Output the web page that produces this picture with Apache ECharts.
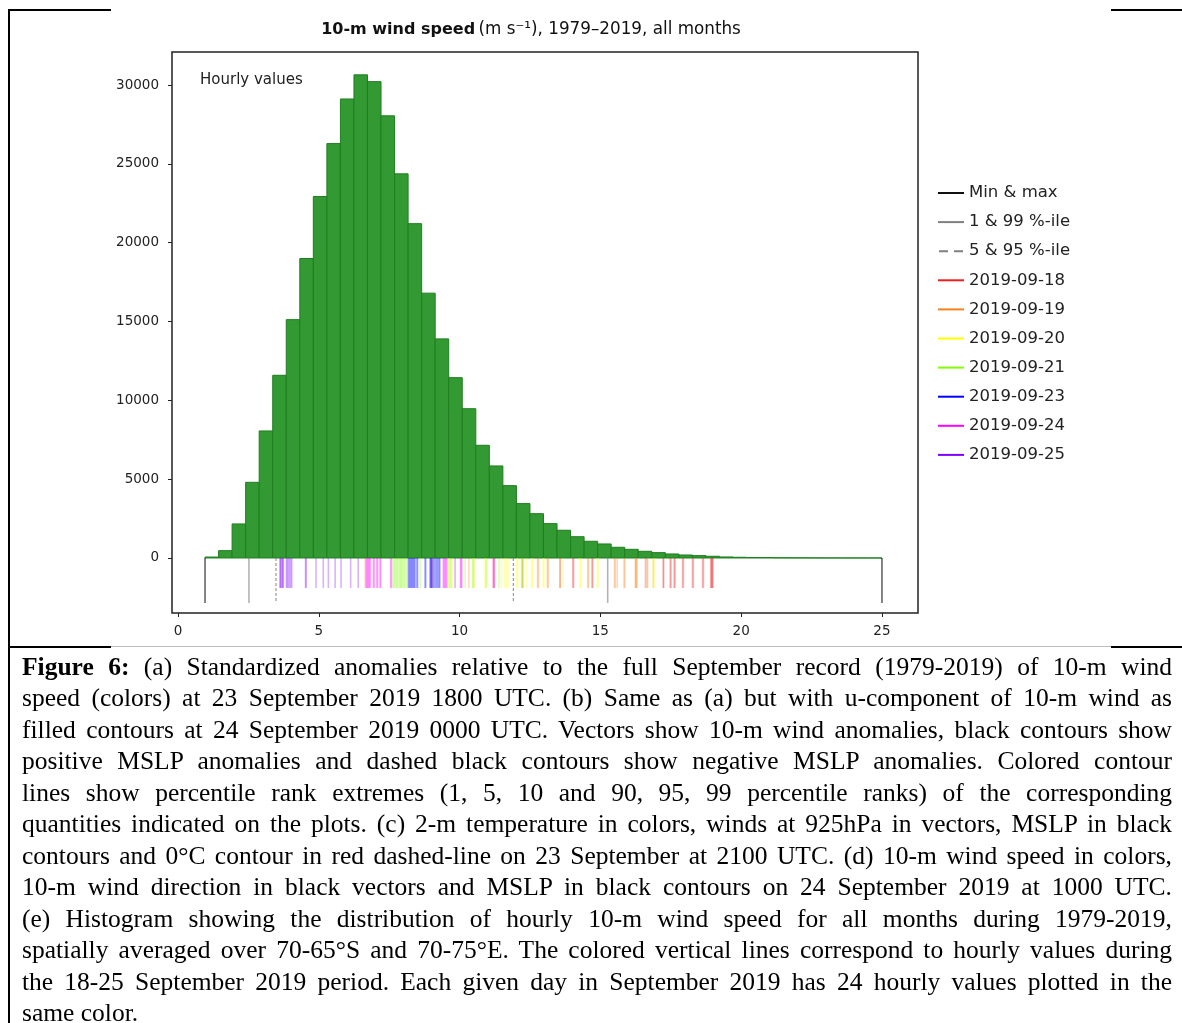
<!DOCTYPE html>
<html><head><meta charset="utf-8">
<script src="https://cdn.jsdelivr.net/npm/echarts@6/dist/echarts.min.js"></script>
<style>
html,body{margin:0;padding:0;background:#fff;width:1182px;height:1023px;overflow:hidden;}
#chart{position:absolute;left:0;top:0;width:1182px;height:646px;}
.ln{position:absolute;background:#000;}
#cap{position:absolute;left:22px;top:651px;width:1150px;font-family:'Liberation Serif','Times New Roman',serif;font-size:25.5px;line-height:31.45px;color:#000;}
#cap div{text-align:justify;text-align-last:justify;}
#cap div.last{text-align-last:left;}
</style></head><body>
<div id="chart"></div>
<div class="ln" style="left:8px;top:9px;width:103px;height:2px"></div>
<div class="ln" style="left:1111px;top:9px;width:71px;height:2px"></div>
<div class="ln" style="left:8px;top:9px;width:2px;height:1014px"></div>
<div class="ln" style="left:8px;top:646px;width:103px;height:2px"></div>
<div class="ln" style="left:1111px;top:646px;width:71px;height:2px"></div>
<div class="ln" style="left:111px;top:646px;width:1000px;height:1px;background:#bbb"></div>
<div id="cap">
<div><b>Figure 6:</b> (a) Standardized anomalies relative to the full September record (1979-2019) of 10-m wind</div>
<div>speed (colors) at 23 September 2019 1800 UTC. (b) Same as (a) but with u-component of 10-m wind as</div>
<div>filled contours at 24 September 2019 0000 UTC. Vectors show 10-m wind anomalies, black contours show</div>
<div>positive MSLP anomalies and dashed black contours show negative MSLP anomalies. Colored contour</div>
<div>lines show percentile rank extremes (1, 5, 10 and 90, 95, 99 percentile ranks) of the corresponding</div>
<div>quantities indicated on the plots. (c) 2-m temperature in colors, winds at 925hPa in vectors, MSLP in black</div>
<div>contours and 0°C contour in red dashed-line on 23 September at 2100 UTC. (d) 10-m wind speed in colors,</div>
<div>10-m wind direction in black vectors and MSLP in black contours on 24 September 2019 at 1000 UTC.</div>
<div>(e) Histogram showing the distribution of hourly 10-m wind speed for all months during 1979-2019,</div>
<div>spatially averaged over 70-65°S and 70-75°E. The colored vertical lines correspond to hourly values during</div>
<div>the 18-25 September 2019 period. Each given day in September 2019 has 24 hourly values plotted in the</div>
<div class="last">same color.</div>
</div>
<script>
// ---------- data ----------
const binMin = 0.96, binMax = 25.0, binCount = 50;
const counts = [60,465,2160,4800,8060,11590,15120,19000,22930,26290,29120,30650,30220,28050,24370,21210,16800,13900,11440,9470,
  7150,5840,4590,3450,2810,2180,1760,1350,1060,890,680,550,425,340,255,190,150,110,65,45,30,25,15,12,10,5,4,3,2,2];
const xTicks = [0,5,10,15,20,25];
const yTicks = [0,5000,10000,15000,20000,25000,30000];
const minMax = [0.96, 25.0];
const pct1_99 = [2.52, 15.26];
const pct5_95 = [3.48, 11.91];
const dayNames = ['2019-09-18','2019-09-19','2019-09-20','2019-09-21','2019-09-23','2019-09-24','2019-09-25'];
const d18 = [11.22,14.02,14.05,14.70,14.73,16.60,17.23,17.25,17.48,17.51,17.62,17.65,17.92,17.95,18.27,18.30,18.63,18.66,18.92,18.94,18.96,18.98,19.00,13.57];
const d19 = [6.65,10.33,11.20,12.23,12.77,12.80,13.15,13.57,14.55,14.58,15.50,15.53,15.60,15.84,15.87,16.24,16.26,16.28,16.30,16.65,16.68,16.88,13.12,12.25];
const d20 = [9.60,9.75,10.49,10.52,10.90,10.93,11.49,11.61,11.66,11.72,12.03,12.06,12.38,12.56,12.59,12.97,13.00,13.68,14.28,14.31,14.89,14.92,16.88,16.91];
const d21 = [7.64,7.68,7.72,7.77,7.80,7.86,7.90,7.93,7.97,8.02,8.06,8.12,8.60,9.05,9.58,9.65,9.70,10.20,10.46,10.50,10.95,11.40,12.20,12.23];
const d23 = [8.18,8.21,8.24,8.27,8.30,8.33,8.36,8.39,8.42,8.48,8.51,8.77,8.95,8.97,8.99,9.01,9.07,9.11,9.15,9.19,9.23,9.27,9.30,8.80];
const d24 = [6.68,6.71,6.74,6.77,6.80,6.83,6.94,6.97,7.06,7.09,7.17,7.20,7.55,7.58,9.42,9.45,9.48,9.51,9.54,10.03,10.05,10.08,11.20,11.24];
const d25 = [3.62,3.64,3.66,3.70,3.72,3.74,3.85,3.88,3.92,3.96,4.00,4.04,4.53,4.90,5.16,5.34,5.58,5.79,6.13,6.40,9.84,9.00,9.03,4.55];
const dayValues = [d18,d19,d20,d21,d23,d24,d25];
const dayColors = ['#e82020','#f5821f','#ffff00','#80ff00','#0000ff','#ff00ff','#8000ff'];
const rugDepth = -1900, statDepth = -2850;

// ---------- build ----------
const binW = (binMax - binMin) / binCount;
const histData = counts.map((c, i) => [binMin + i * binW, binMin + (i + 1) * binW, c]);
function hexA(hex, a){const n=parseInt(hex.slice(1),16);return `rgba(${n>>16&255},${n>>8&255},${n&255},${a})`;}
function rugRender(color, depth, dash, width){
  return function(params, api){
    const v = api.value(0);
    const a = api.coord([v, 0]), b = api.coord([v, depth]);
    return {type:'line', shape:{x1:a[0],y1:a[1],x2:b[0],y2:b[1]}, style:{stroke:color,lineWidth:width,lineDash:dash||null}};
  };
}
const FONT = 'DejaVu Sans';
const series = [{
  type:'custom', name:'hist', silent:true, clip:true,
  encode:{x:[0,1], y:2}, data: histData,
  renderItem(params, api){
    const a = api.coord([api.value(0), 0]), b = api.coord([api.value(1), api.value(2)]);
    return {type:'rect', shape:{x:a[0], y:b[1], width:b[0]-a[0], height:a[1]-b[1]},
      style:{fill:'#339933', stroke:'#1f7f1f', lineWidth:1}};
  }
}];
dayValues.forEach((vals, k) => {
  series.push({type:'custom', name:dayNames[k], silent:true, encode:{x:0,y:1},
    itemStyle:{color:dayColors[k]}, data: vals.map(v=>[v,0]),
    renderItem: rugRender(hexA(dayColors[k],0.3), rugDepth, null, 1.6)});
});
series.push({type:'custom', name:'Min & max', silent:true, encode:{x:0,y:1}, itemStyle:{color:'#000'},
  data:minMax.map(v=>[v,0]), renderItem: rugRender('rgba(0,0,0,0.6)', statDepth, null, 1.6)});
series.push({type:'custom', name:'1 & 99 %-ile', silent:true, encode:{x:0,y:1}, itemStyle:{color:'#808080'},
  data:pct1_99.map(v=>[v,0]), renderItem: rugRender('rgba(128,128,128,0.6)', statDepth, null, 1.6)});
series.push({type:'custom', name:'5 & 95 %-ile', silent:true, encode:{x:0,y:1}, itemStyle:{color:'#808080'},
  data:pct5_95.map(v=>[v,0]), renderItem: rugRender('rgba(128,128,128,0.8)', statDepth, [3,2], 1.2)});

const legendData = [
  {name:'Min & max', icon:'rect', itemStyle:{color:'#111'}},
  {name:'1 & 99 %-ile', icon:'rect', itemStyle:{color:'#808080'}},
  {name:'5 & 95 %-ile', icon:'path://M0,0h9v2h-9zM15,0h9v2h-9z', itemStyle:{color:'#808080'}},
].concat(dayNames.map((n,k)=>({name:n, icon:'rect', itemStyle:{color:dayColors[k]}})));

const chart = echarts.init(document.getElementById('chart'), null, {renderer:'canvas'});
chart.setOption({
  animation:false,
  grid:{left:172, top:52, width:746, height:561, show:true, borderColor:'#222', borderWidth:1.5, backgroundColor:'transparent'},
  xAxis:{type:'value', min:-0.213, max:26.28, splitLine:{show:false}, axisLine:{show:false, onZero:false},
    axisTick:{show:true, inside:false, length:4, customValues:xTicks, lineStyle:{color:'#222'}},
    axisLabel:{customValues:xTicks, margin:11, fontFamily:FONT, fontSize:13.5, color:'#222', formatter:v=>String(v)}},
  yAxis:{type:'value', min:-3490, max:32100, splitLine:{show:false}, axisLine:{show:false, onZero:false},
    axisTick:{show:true, inside:false, length:4, customValues:yTicks, lineStyle:{color:'#222'}},
    axisLabel:{customValues:yTicks, margin:13, fontFamily:FONT, fontSize:13.5, color:'#222', formatter:v=>String(v)}},
  legend:{orient:'vertical', left:938, top:184, padding:0, itemWidth:26, itemHeight:2, itemGap:11.1,
    selectedMode:false, data:legendData,
    textStyle:{fontFamily:FONT, fontSize:16.5, color:'#222', lineHeight:18}},
  graphic:[
    {type:'text', left:200, top:73, silent:true, style:{text:'Hourly values', fontFamily:FONT, fontSize:15, fill:'#222'}},
    {type:'text', x:531, y:30, silent:true, style:{
      text:'{b|10-m wind speed} {n|(m s⁻¹), 1979–2019, all months}',
      align:'center', verticalAlign:'middle',
      rich:{
        b:{fontFamily:FONT, fontSize:16, fontWeight:'bold', fill:'#111', lineHeight:20},
        n:{fontFamily:FONT, fontSize:16.8, fill:'#111', lineHeight:20}
      }}}
  ],
  series: series
});
</script>
</body></html>
